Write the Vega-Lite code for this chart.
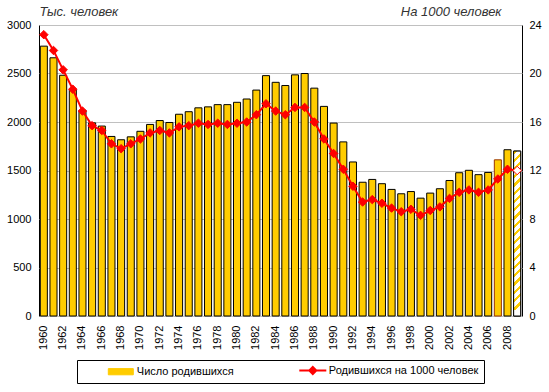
{
  "$schema": "https://vega.github.io/schema/vega-lite/v6.json",
  "width": 483,
  "height": 291,
  "autosize": {"type": "none"},
  "padding": {"left": 39, "top": 25, "right": 27, "bottom": 76},
  "background": "white",
  "config": {
    "font": "Liberation Sans",
    "view": {"stroke": "black", "strokeWidth": 1},
    "axis": {"labelFont": "Liberation Sans", "labelFontSize": 11, "labelColor": "black", "ticks": false, "tickSize": 0, "domain": false},
    "legend": {
      "orient": "none", "legendX": 38, "legendY": 335,
      "direction": "horizontal", "title": null,
      "padding": 5, "strokeColor": "black", "fillColor": "white",
      "labelFont": "Liberation Sans", "labelFontSize": 11, "labelColor": "black",
      "symbolSize": 100, "symbolStrokeWidth": 1,
      "symbolOffset": 33.3, "labelOffset": 10.5, "columnPadding": 40
    }
  },
  "data": {"values": [
    {"year": 1960, "births": 2782, "rate": 23.2},
    {"year": 1961, "births": 2662, "rate": 21.9},
    {"year": 1962, "births": 2482, "rate": 20.3},
    {"year": 1963, "births": 2331, "rate": 18.7},
    {"year": 1964, "births": 2121, "rate": 16.9},
    {"year": 1965, "births": 1991, "rate": 15.7},
    {"year": 1966, "births": 1958, "rate": 15.3},
    {"year": 1967, "births": 1851, "rate": 14.2},
    {"year": 1968, "births": 1817, "rate": 13.8},
    {"year": 1969, "births": 1847, "rate": 14.2},
    {"year": 1970, "births": 1904, "rate": 14.6},
    {"year": 1971, "births": 1975, "rate": 15.1},
    {"year": 1972, "births": 2015, "rate": 15.3},
    {"year": 1973, "births": 1995, "rate": 15.1},
    {"year": 1974, "births": 2080, "rate": 15.6},
    {"year": 1975, "births": 2106, "rate": 15.7},
    {"year": 1976, "births": 2146, "rate": 15.9},
    {"year": 1977, "births": 2156, "rate": 15.8},
    {"year": 1978, "births": 2179, "rate": 15.9},
    {"year": 1979, "births": 2179, "rate": 15.8},
    {"year": 1980, "births": 2203, "rate": 15.9},
    {"year": 1981, "births": 2237, "rate": 16.0},
    {"year": 1982, "births": 2329, "rate": 16.6},
    {"year": 1983, "births": 2478, "rate": 17.5},
    {"year": 1984, "births": 2409, "rate": 16.9},
    {"year": 1985, "births": 2376, "rate": 16.6},
    {"year": 1986, "births": 2486, "rate": 17.2},
    {"year": 1987, "births": 2500, "rate": 17.2},
    {"year": 1988, "births": 2349, "rate": 16.0},
    {"year": 1989, "births": 2161, "rate": 14.6},
    {"year": 1990, "births": 1989, "rate": 13.4},
    {"year": 1991, "births": 1795, "rate": 12.1},
    {"year": 1992, "births": 1588, "rate": 10.7},
    {"year": 1993, "births": 1379, "rate": 9.4},
    {"year": 1994, "births": 1408, "rate": 9.6},
    {"year": 1995, "births": 1364, "rate": 9.3},
    {"year": 1996, "births": 1305, "rate": 8.9},
    {"year": 1997, "births": 1260, "rate": 8.6},
    {"year": 1998, "births": 1283, "rate": 8.8},
    {"year": 1999, "births": 1215, "rate": 8.3},
    {"year": 2000, "births": 1267, "rate": 8.7},
    {"year": 2001, "births": 1312, "rate": 9.0},
    {"year": 2002, "births": 1397, "rate": 9.7},
    {"year": 2003, "births": 1477, "rate": 10.2},
    {"year": 2004, "births": 1502, "rate": 10.4},
    {"year": 2005, "births": 1457, "rate": 10.2},
    {"year": 2006, "births": 1480, "rate": 10.4},
    {"year": 2007, "births": 1610, "rate": 11.3},
    {"year": 2008, "births": 1714, "rate": 12.1},
    {"year": 2009, "births": 1700, "rate": 12.0}
  ]},
  "resolve": {"scale": {"y": "independent"}},
  "layer": [
    {
      "layer": [
        {
          "mark": {"type": "bar", "strokeWidth": 1},
          "encoding": {
            "x": {
              "field": "year", "type": "ordinal",
              "scale": {"paddingInner": 0.27, "paddingOuter": 0.135},
              "axis": {"title": null, "labelAngle": -90, "labelPadding": 9, "labelExpr": "datum.value % 2 == 0 ? datum.label : ''"}
            },
            "y": {
              "field": "births", "type": "quantitative",
              "scale": {"domain": [0, 3000], "nice": false},
              "axis": {
                "values": [0, 500, 1000, 1500, 2000, 2500, 3000], "format": "d",
                "grid": true, "gridColor": "#C0C0C0", "labelPadding": 8,
                "title": "Тыс. человек", "titleAngle": 0, "titleAlign": "left", "titleBaseline": "alphabetic",
                "titleX": 0, "titleY": -10, "titleFont": "Liberation Sans", "titleFontStyle": "italic",
                "titleFontWeight": "normal", "titleFontSize": 13, "titleColor": "#333333"
              }
            },
            "color": {
              "datum": "Число родившихся",
              "scale": {"domain": ["Число родившихся", "Родившихся на 1000 человек"], "range": ["#FFCC00", "#FF0000"]},
              "legend": {
                "labelExpr": "datum.label == 'Родившихся на 1000 человек' ? datum.label + '\u00a0\u00a0\u00a0\u00a0\u00a0\u00a0\u00a0' : datum.label",
                "encode": {"symbols": {"update": {
                  "shape": {"signal": "datum.value === 'Число родившихся' ? 'M-2.5,-0.62H2.5V0.62H-2.5Z' : 'M-2.7,0H2.7M0,-0.7L0.7,0L0,0.7L-0.7,0Z'"},
                  "fill": {"signal": "datum.value === 'Число родившихся' ? '#FFCC00' : '#FF0000'"},
                  "stroke": {"signal": "datum.value === 'Число родившихся' ? '#000000' : '#FF0000'"},
                  "strokeWidth": {"signal": "datum.value === 'Число родившихся' ? 1 : 2"},
                  "opacity": {"value": 1}
                }}}
              }
            },
            "stroke": {"condition": {"test": "datum.year == 2007", "value": "#993300"}, "value": "black"}
          }
        },
        {
          "transform": [{"filter": "datum.year == 2009"}],
          "mark": {
            "type": "bar", "stroke": "black", "strokeWidth": 1,
            "fill": {
              "gradient": "linear", "x1": 0, "y1": 0, "x2": 0.0424, "y2": 1,
              "stops": [
                {"offset": 0.00, "color": "#FFCC00"}, {"offset": 0.02, "color": "#FFCC00"}, {"offset": 0.02, "color": "#FFFFFF"}, {"offset": 0.05, "color": "#FFFFFF"},
                {"offset": 0.05, "color": "#FFCC00"}, {"offset": 0.07, "color": "#FFCC00"}, {"offset": 0.07, "color": "#FFFFFF"}, {"offset": 0.10, "color": "#FFFFFF"},
                {"offset": 0.10, "color": "#FFCC00"}, {"offset": 0.12, "color": "#FFCC00"}, {"offset": 0.12, "color": "#FFFFFF"}, {"offset": 0.15, "color": "#FFFFFF"},
                {"offset": 0.15, "color": "#FFCC00"}, {"offset": 0.17, "color": "#FFCC00"}, {"offset": 0.17, "color": "#FFFFFF"}, {"offset": 0.20, "color": "#FFFFFF"},
                {"offset": 0.20, "color": "#FFCC00"}, {"offset": 0.22, "color": "#FFCC00"}, {"offset": 0.22, "color": "#FFFFFF"}, {"offset": 0.25, "color": "#FFFFFF"},
                {"offset": 0.25, "color": "#FFCC00"}, {"offset": 0.27, "color": "#FFCC00"}, {"offset": 0.27, "color": "#FFFFFF"}, {"offset": 0.30, "color": "#FFFFFF"},
                {"offset": 0.30, "color": "#FFCC00"}, {"offset": 0.32, "color": "#FFCC00"}, {"offset": 0.32, "color": "#FFFFFF"}, {"offset": 0.35, "color": "#FFFFFF"},
                {"offset": 0.35, "color": "#FFCC00"}, {"offset": 0.37, "color": "#FFCC00"}, {"offset": 0.37, "color": "#FFFFFF"}, {"offset": 0.40, "color": "#FFFFFF"},
                {"offset": 0.40, "color": "#FFCC00"}, {"offset": 0.42, "color": "#FFCC00"}, {"offset": 0.42, "color": "#FFFFFF"}, {"offset": 0.45, "color": "#FFFFFF"},
                {"offset": 0.45, "color": "#FFCC00"}, {"offset": 0.47, "color": "#FFCC00"}, {"offset": 0.47, "color": "#FFFFFF"}, {"offset": 0.50, "color": "#FFFFFF"},
                {"offset": 0.50, "color": "#FFCC00"}, {"offset": 0.52, "color": "#FFCC00"}, {"offset": 0.52, "color": "#FFFFFF"}, {"offset": 0.55, "color": "#FFFFFF"},
                {"offset": 0.55, "color": "#FFCC00"}, {"offset": 0.57, "color": "#FFCC00"}, {"offset": 0.57, "color": "#FFFFFF"}, {"offset": 0.60, "color": "#FFFFFF"},
                {"offset": 0.60, "color": "#FFCC00"}, {"offset": 0.62, "color": "#FFCC00"}, {"offset": 0.62, "color": "#FFFFFF"}, {"offset": 0.65, "color": "#FFFFFF"},
                {"offset": 0.65, "color": "#FFCC00"}, {"offset": 0.67, "color": "#FFCC00"}, {"offset": 0.67, "color": "#FFFFFF"}, {"offset": 0.70, "color": "#FFFFFF"},
                {"offset": 0.70, "color": "#FFCC00"}, {"offset": 0.72, "color": "#FFCC00"}, {"offset": 0.72, "color": "#FFFFFF"}, {"offset": 0.75, "color": "#FFFFFF"},
                {"offset": 0.75, "color": "#FFCC00"}, {"offset": 0.77, "color": "#FFCC00"}, {"offset": 0.77, "color": "#FFFFFF"}, {"offset": 0.80, "color": "#FFFFFF"},
                {"offset": 0.80, "color": "#FFCC00"}, {"offset": 0.82, "color": "#FFCC00"}, {"offset": 0.82, "color": "#FFFFFF"}, {"offset": 0.85, "color": "#FFFFFF"},
                {"offset": 0.85, "color": "#FFCC00"}, {"offset": 0.87, "color": "#FFCC00"}, {"offset": 0.87, "color": "#FFFFFF"}, {"offset": 0.90, "color": "#FFFFFF"},
                {"offset": 0.90, "color": "#FFCC00"}, {"offset": 0.92, "color": "#FFCC00"}, {"offset": 0.92, "color": "#FFFFFF"}, {"offset": 0.95, "color": "#FFFFFF"},
                {"offset": 0.95, "color": "#FFCC00"}, {"offset": 0.97, "color": "#FFCC00"}, {"offset": 0.97, "color": "#FFFFFF"}, {"offset": 1.00, "color": "#FFFFFF"}
              ]
            }
          },
          "encoding": {
            "x": {"field": "year", "type": "ordinal"},
            "y": {"field": "births", "type": "quantitative"}
          }
        }
      ]
    },
    {
      "layer": [
        {
          "mark": {"type": "line", "strokeWidth": 2},
          "encoding": {
            "x": {"field": "year", "type": "ordinal"},
            "y": {
              "field": "rate", "type": "quantitative",
              "scale": {"domain": [0, 24], "nice": false},
              "axis": {
                "orient": "right", "values": [0, 4, 8, 12, 16, 20, 24], "grid": false, "labelPadding": 7,
                "title": "На 1000 человек", "titleAngle": 0, "titleAlign": "right", "titleBaseline": "alphabetic",
                "titleX": -21, "titleY": -10, "titleFont": "Liberation Sans", "titleFontStyle": "italic",
                "titleFontWeight": "normal", "titleFontSize": 13, "titleColor": "#333333"
              }
            },
            "color": {
              "datum": "Родившихся на 1000 человек",
              "legend": {
                "labelExpr": "datum.label == 'Родившихся на 1000 человек' ? datum.label + '\u00a0\u00a0\u00a0\u00a0\u00a0\u00a0\u00a0' : datum.label",
                "encode": {"symbols": {"update": {
                  "shape": {"signal": "datum.value === 'Число родившихся' ? 'M-2.5,-0.62H2.5V0.62H-2.5Z' : 'M-2.7,0H2.7M0,-0.7L0.7,0L0,0.7L-0.7,0Z'"},
                  "fill": {"signal": "datum.value === 'Число родившихся' ? '#FFCC00' : '#FF0000'"},
                  "stroke": {"signal": "datum.value === 'Число родившихся' ? '#000000' : '#FF0000'"},
                  "strokeWidth": {"signal": "datum.value === 'Число родившихся' ? 1 : 2"},
                  "opacity": {"value": 1}
                }}}
              }
            }
          }
        },
        {
          "mark": {"type": "point", "shape": "diamond", "filled": true, "size": 72, "strokeWidth": 1, "opacity": 1},
          "encoding": {
            "x": {"field": "year", "type": "ordinal"},
            "y": {"field": "rate", "type": "quantitative"},
            "fill": {"condition": {"test": "datum.year == 2009", "value": "#FFFFFF"}, "value": "#FF0000"},
            "stroke": {"value": "#FF0000"}
          }
        }
      ]
    }
  ]
}
